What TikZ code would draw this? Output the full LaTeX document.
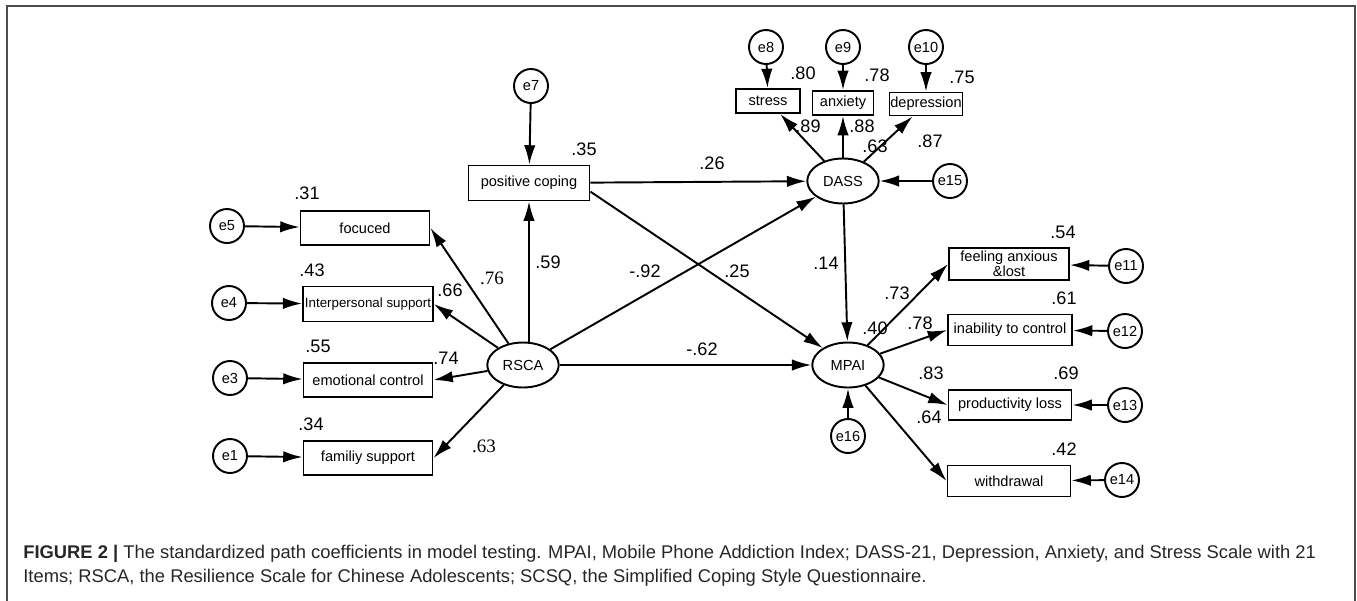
\documentclass[tikz,border=0pt]{standalone}
\usepackage{fontspec}
\setmainfont{Liberation Sans}
\newfontfamily\timesnum{Liberation Serif}
\usetikzlibrary{arrows.meta,shapes.geometric}

\begin{document}
\begin{tikzpicture}[x=0.02cm,y=-0.02cm,
		obs/.style={draw,line width=1.1pt,inner sep=1pt,align=center,font=\fontsize{8.3}{8.5}\selectfont},
		lat/.style={draw,ellipse,line width=1.1pt,inner sep=0pt,minimum width=1.43cm,minimum height=0.9cm,font=\fontsize{8.3}{9}\selectfont},
		err/.style={draw,circle,line width=1.1pt,inner sep=0pt,minimum size=0.68cm,font=\fontsize{8.3}{9}\selectfont},
		coef/.style={inner sep=0pt,font=\fontsize{10.3}{12}\selectfont},
		arr/.style={-{Latex[length=11pt,width=6.5pt]},line width=1.1pt}]
			\useasboundingbox (0,0) rectangle (1357,600);
			\draw[black!70,line width=1.2pt] (7,606) -- (7,6) -- (1355,6) -- (1355,606);
			\node[lat] (rsca) at (523,365) {RSCA};
			\node[lat] (dass) at (843,181) {DASS};
			\node[lat] (mpai) at (848,365) {MPAI};
			\node[obs,minimum width=2.42cm,minimum height=0.7cm] (cop) at (529,183) {positive coping};
			\node[obs,minimum width=2.58cm,minimum height=0.68cm] (foc) at (365,228) {focuced};
			\node[obs,minimum width=2.56cm,minimum height=0.7cm,font=\fontsize{7.6}{8}\selectfont] (ips) at (368,304) {Interpersonal support};
			\node[obs,minimum width=2.58cm,minimum height=0.68cm] (emo) at (368,380) {emotional control};
			\node[obs,minimum width=2.58cm,minimum height=0.68cm] (fam) at (368,458) {familiy support};
			\node[obs,minimum width=1.28cm,minimum height=0.48cm] (str) at (768,101) {stress};
			\node[obs,minimum width=1.22cm,minimum height=0.48cm] (anx) at (843,103) {anxiety};
			\node[obs,minimum width=1.46cm,minimum height=0.46cm,inner sep=0pt] (dep) at (926,104) {depression};
			\node[obs,minimum width=2.4cm,minimum height=0.64cm,inner sep=0pt] (fal) at (1009,264) {feeling anxious\\\&lost};
			\node[obs,minimum width=2.48cm,minimum height=0.62cm] (inab) at (1010,330) {inability to control};
			\node[obs,minimum width=2.46cm,minimum height=0.6cm] (prod) at (1010,405) {productivity loss};
			\node[obs,minimum width=2.46cm,minimum height=0.62cm] (wdr) at (1009,481) {withdrawal};
			\node[err] (e7) at (531,86) {e7};
			\node[err] (e5) at (227,226) {e5};
			\node[err] (e4) at (229,303) {e4};
			\node[err] (e3) at (230,378) {e3};
			\node[err] (e1) at (230,456) {e1};
			\node[err] (e8) at (766,47) {e8};
			\node[err] (e9) at (843,47) {e9};
			\node[err] (e10) at (926,47) {e10};
			\node[err] (e15) at (950,181) {e15};
			\node[err] (e11) at (1126,266) {e11};
			\node[err] (e12) at (1125,331) {e12};
			\node[err] (e13) at (1125,405) {e13};
			\node[err] (e14) at (1122,480) {e14};
			\node[err] (e16) at (848,436) {e16};
			\draw[arr] (e7) -- (cop);
			\draw[arr] (rsca.north -| cop) -- (cop);
			\draw[arr] (rsca) -- (foc.east);
			\draw[arr] (rsca) -- (ips.east);
			\draw[arr] (rsca) -- (emo.east);
			\draw[arr] (rsca) -- (fam.east);
			\draw[arr] (e5) -- (foc);
			\draw[arr] (e4) -- (ips);
			\draw[arr] (e3) -- (emo);
			\draw[arr] (e1) -- (fam);
			\draw[arr] (cop) -- (dass);
			\draw[arr] (cop.-8) -- (mpai);
			\draw[arr] (rsca) -- (dass);
			\draw[arr] (rsca) -- (mpai);
			\draw[arr] (dass) -- (mpai);
			\draw[arr] (dass) -- (str);
			\draw[arr] (dass) -- (anx);
			\draw[arr] (dass) -- (dep);
			\draw[arr] (e8) -- (str);
			\draw[arr] (e9) -- (anx);
			\draw[arr] (e10) -- (dep);
			\draw[arr] (e15) -- (dass);
			\draw[arr] (mpai) -- (fal.west);
			\draw[arr] (mpai) -- (inab.west);
			\draw[arr] (mpai) -- (prod.west);
			\draw[arr] (mpai) -- (wdr.west);
			\draw[arr] (e11) -- (fal);
			\draw[arr] (e12) -- (inab);
			\draw[arr] (e13) -- (prod);
			\draw[arr] (e14) -- (wdr);
			\draw[arr] (e16) -- (mpai);
			\node[coef] (c35) at (584,149) {.35};
			\node[coef] (c31) at (307,193) {.31};
			\node[coef] (c43) at (312,270) {.43};
			\node[coef] (c59) at (548,262) {.59};
			\node[coef,font=\timesnum\fontsize{10.8}{12}\selectfont] (c76) at (492,278) {.76};
			\node[coef] (c66) at (450,290) {.66};
			\node[coef] (c92) at (645,271) {-.92};
			\node[coef] (c55) at (318,346) {.55};
			\node[coef] (c74) at (446,358) {.74};
			\node[coef] (c34) at (311,424) {.34};
			\node[coef,font=\timesnum\fontsize{10.8}{12}\selectfont] (c63a) at (484,446) {.63};
			\node[coef] (c62) at (702,349) {-.62};
			\node[coef] (c80) at (803,73) {.80};
			\node[coef] (c78a) at (877,75) {.78};
			\node[coef] (c75) at (962,77) {.75};
			\node[coef] (c89) at (808,126) {.89};
			\node[coef] (c88) at (862,126) {.88};
			\node[coef] (c63b) at (875,146) {.63};
			\node[coef] (c87) at (930,141) {.87};
			\node[coef] (c26) at (712,163) {.26};
			\node[coef] (c14) at (826,263) {.14};
			\node[coef] (c25) at (737,271) {.25};
			\node[coef] (c54) at (1063,232) {.54};
			\node[coef] (c73) at (897,293) {.73};
			\node[coef] (c61) at (1064,298) {.61};
			\node[coef] (c40) at (875,328) {.40};
			\node[coef] (c78b) at (920,323) {.78};
			\node[coef] (c83) at (931,373) {.83};
			\node[coef] (c69) at (1066,373) {.69};
			\node[coef] (c64) at (929,417) {.64};
			\node[coef] (c42) at (1064,449) {.42};
			\node[anchor=base west,inner sep=0pt,text=black!85,font=\fontsize{10.45}{12}\selectfont] (cap1) at (23,558) {\textbf{FIGURE 2 |} The standardized path coefficients in model testing. MPAI, Mobile Phone Addiction Index; DASS-21, Depression, Anxiety, and Stress Scale with 21};
			\node[anchor=base west,inner sep=0pt,text=black!85,font=\fontsize{10.45}{12}\selectfont] (cap2) at (23,582) {Items; RSCA, the Resilience Scale for Chinese Adolescents; SCSQ, the Simplified Coping Style Questionnaire.};
		\end{tikzpicture}
\end{document}
